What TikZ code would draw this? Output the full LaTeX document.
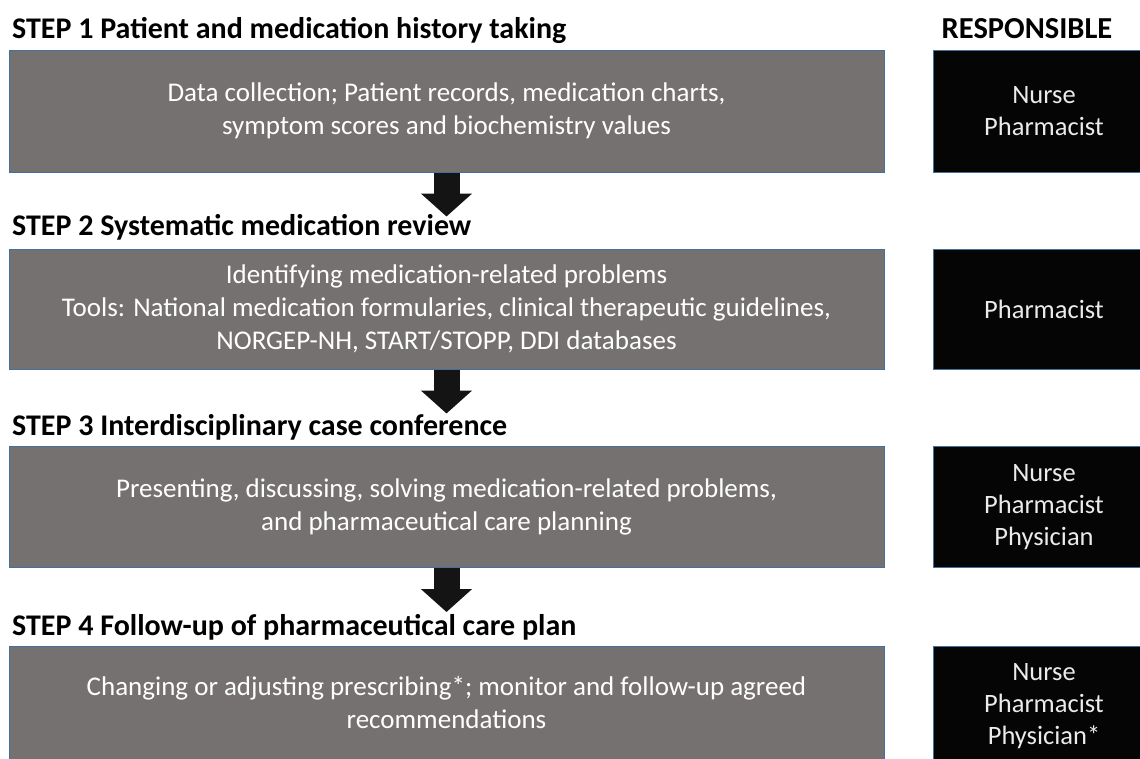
\documentclass[tikz,border=0pt]{standalone}
\usepackage{fontspec}
\setmainfont{Carlito}
\usetikzlibrary{positioning}
\usetikzlibrary{arrows.meta}
\definecolor{boxgray}{HTML}{767171}
\definecolor{boxline}{HTML}{41719C}
\definecolor{arrowfill}{HTML}{141414}
\tikzset{
    stepbox/.style={draw=boxline, fill=boxgray, text=white, line width=1pt, inner sep=0pt,
        minimum width=875pt, minimum height=122pt, align=center, font=\fontsize{27}{33}\selectfont},
    respbox/.style={draw=boxline, fill=black!98, text=white!92!black, line width=1pt, inner sep=0pt,
        minimum width=222pt, minimum height=122pt, align=center, font=\fontsize{26.5}{32}\selectfont},
    steptitle/.style={anchor=base west, inner sep=0pt, font=\fontsize{30}{36}\selectfont\bfseries},
    downarrow/.style={line width=26pt, draw=arrowfill, -{Triangle[width=50pt,length=23pt]}}
}

\begin{document}
\begin{tikzpicture}[x=1pt, y=-1pt]
            \clip (0,0) rectangle (1140,758);
            \fill[white] (0,0) rectangle (1140,758);

            % steps on the left
            \node (t1) [steptitle] at (12,38)  {STEP 1 Patient and medication history taking};
            \node (box1) [stepbox] at (446.5,111) {Data collection; Patient records, medication charts,\\ symptom scores and biochemistry values};
            \node (t2) [steptitle] at (12,235) {STEP 2 Systematic medication review};
            \node (box2) [stepbox, minimum height=120pt] at (446.5,309) {Identifying medication-related problems\\ Tools: National medication formularies, clinical therapeutic guidelines,\\ NORGEP-NH, START/STOPP, DDI databases};
            \node (t3) [steptitle] at (12,435) {STEP 3 Interdisciplinary case conference};
            \node (box3) [stepbox, minimum height=121pt] at (446.5,507) {Presenting, discussing, solving medication-related problems,\\ and pharmaceutical care planning};
            \node (t4) [steptitle] at (12,635) {STEP 4 Follow-up of pharmaceutical care plan};
            \node (box4) [stepbox, minimum height=124pt, text depth=12pt] at (446.5,708) {Changing or adjusting prescribing*; monitor and follow-up agreed\\ recommendations};

            % who is responsible
            \node (resp) [anchor=base, inner sep=0pt, font=\fontsize{30.5}{36}\selectfont\bfseries] at (1027,38) {RESPONSIBLE};
            \node (r1) [respbox, right=48pt of box1] {Nurse\\ Pharmacist};
            \node (r2) [respbox, minimum height=120pt, right=48pt of box2] {Pharmacist};
            \node (r3) [respbox, minimum height=121pt, right=48pt of box3] {Nurse\\ Pharmacist\\ Physician};
            \node (r4) [respbox, minimum height=124pt, text depth=8pt, right=48pt of box4] {Nurse\\ Pharmacist\\ Physician*};

            % arrows between the steps
            \path (box1.south) ++(0,44) coordinate (tip1);
            \path (box2.south) ++(0,44) coordinate (tip2);
            \path (box3.south) ++(0,44) coordinate (tip3);
            \draw[downarrow] (box1.south) -- (tip1);
            \draw[downarrow] (box2.south) -- (tip2);
            \draw[downarrow] (box3.south) -- (tip3);
        \end{tikzpicture}
\end{document}
